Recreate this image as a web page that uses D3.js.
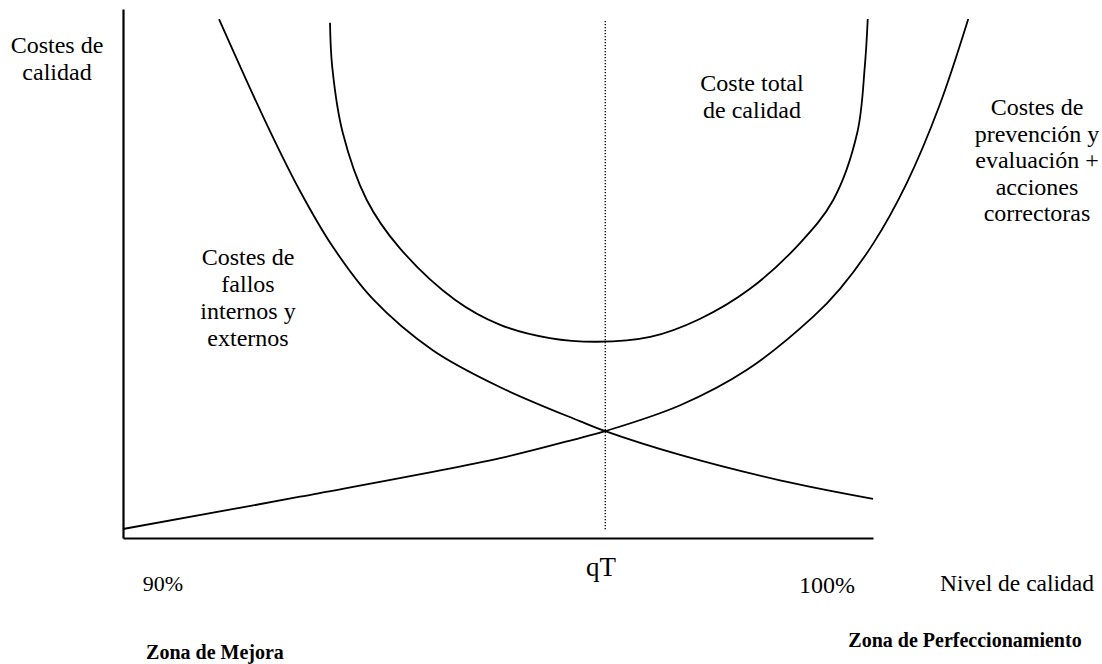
<!DOCTYPE html>
<html>
<head>
<meta charset="utf-8">
<script src="https://cdn.jsdelivr.net/npm/d3@7"></script>
<style>
  body { margin: 0; background: #fff; }
  text { font-family: "Liberation Serif", "Times New Roman", serif; fill: #000; }
</style>
</head>
<body>
<svg id="chart" width="1102" height="664"></svg>
<script>
var svg = d3.select('#chart');

// nivel de calidad (abstract units 0-100 along the x axis) and costes (0-100)
var fallos_x = [12.8, 19.2, 23.6, 28.0, 33.3, 41.3, 50.3, 60.9, 64.3, 74.3, 87.6, 100];
var fallos_y = [98.1, 78.1, 65.6, 55.0, 45.2, 35.5, 28.5, 22.1, 20.2, 15.7, 10.9, 7.4];

var prevencion_x = [0, 23.6, 50.3, 60.9, 64.3, 74.3, 83.2, 92.0, 95.6, 100, 104.5, 108.9, 112.7];
var prevencion_y = [1.7, 7.8, 15.1, 18.9, 20.2, 25.1, 31.8, 41.8, 47.1, 55.6, 67.1, 81.9, 98.1];

var total_x = [27.6, 27.9, 29.3, 32.5, 36.9, 44.3, 50.3, 56.9, 63.2, 70.3, 76.9, 83.6, 90.3, 94.7, 97.9, 98.9, 99.3];
var total_y = [97.4, 89.0, 76.6, 63.9, 54.8, 45.0, 40.3, 37.8, 37.1, 38.0, 41.4, 47.1, 55.8, 63.9, 76.6, 89.0, 98.1];

var qT = 64.3;

var x = d3.scaleLinear().domain([0, 100]).range([123, 873]);
var y = d3.scaleLinear().domain([0, 100]).range([538, 9]);

var line = d3.line()
  .x(d => x(d[0]))
  .y(d => y(d[1]))
  .curve(d3.curveCatmullRom.alpha(0.5));

var series = [d3.zip(fallos_x, fallos_y), d3.zip(prevencion_x, prevencion_y), d3.zip(total_x, total_y)];

svg.selectAll('path.curve').data(series).enter().append('path')
  .attr('class', 'curve')
  .attr('d', line)
  .attr('fill', 'none')
  .attr('stroke', '#000')
  .attr('stroke-width', 1.8);

// ejes
svg.append('g').attr('transform', 'translate(0,' + y(0) + ')')
  .call(d3.axisBottom(x).tickValues([]).tickSizeOuter(0));
svg.append('g').attr('transform', 'translate(' + x(0) + ',0)')
  .call(d3.axisLeft(y).tickValues([]).tickSizeOuter(0));
svg.selectAll('.domain').attr('stroke', '#000').attr('stroke-width', 2.2);

// linea qT
svg.append('line')
  .attr('x1', x(qT)).attr('x2', x(qT))
  .attr('y1', 21).attr('y2', 530)
  .attr('stroke', '#000')
  .attr('stroke-width', 1.3)
  .attr('stroke-dasharray', '1.3,1.7');

function label(lines, cx, y0, dy, size, weight) {
  var t = svg.append('text')
    .attr('text-anchor', 'middle')
    .style('font-size', size + 'px')
    .style('font-weight', weight || 'normal');
  lines.forEach(function(s, i) {
    t.append('tspan').attr('x', cx).attr('y', y0 + i * dy).text(s);
  });
}

label(['Costes de', 'calidad'], 57, 53, 27, 24);
label(['Coste total', 'de calidad'], 752, 91, 27, 24);
label(['Costes de', 'prevención y', 'evaluación +', 'acciones', 'correctoras'], 1037, 115, 26.6, 24);
label(['Costes de', 'fallos', 'internos y', 'externos'], 248, 265, 27, 24);
label(['qT'], 601, 576, 0, 27);
label(['90%'], 163, 591, 0, 22);
label(['100%'], 827, 593, 0, 24);
label(['Nivel de calidad'], 1017, 591, 0, 23.5);
label(['Zona de Mejora'], 215, 659, 0, 20, 'bold');
label(['Zona de Perfeccionamiento'], 965, 647, 0, 20, 'bold');
</script>
</body>
</html>
